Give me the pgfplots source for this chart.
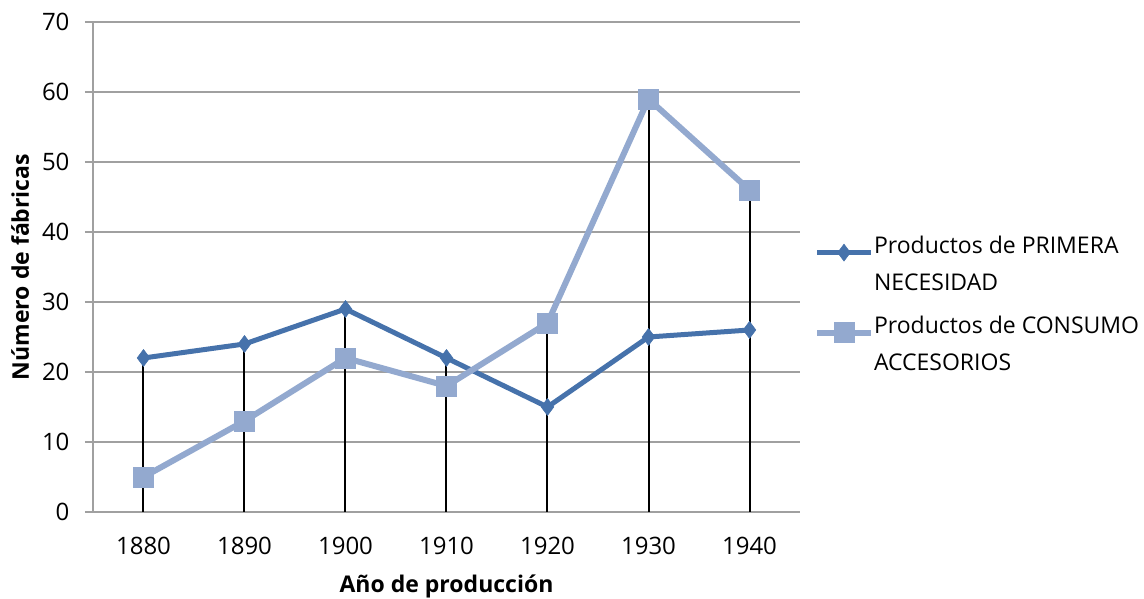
\documentclass[border=0pt]{standalone}
\usepackage{pgfplots}
\pgfplotsset{compat=1.18}
\usepackage{fontspec}
\setmainfont{Open Sans}
\definecolor{sdark}{HTML}{4672AB}
\definecolor{slight}{HTML}{93A9CF}
\definecolor{gridg}{HTML}{A0A0A0}
\begin{document}
\begin{tikzpicture}
\path[use as bounding box] (-93pt,-87pt) rectangle (1051pt,512pt);
\begin{axis}[
  at={(0pt,0pt)}, anchor=south west,
  scale only axis, width=707pt, height=490pt,
  xmin=-0.5, xmax=6.5, ymin=0, ymax=70,
  xtick={0,...,6}, xticklabels={1880,1890,1900,1910,1920,1930,1940},
  ytick={0,10,...,70},
  /pgf/number format/assume math mode=true,
  tick label style={font=\fontsize{24}{28}\selectfont, black},
  xticklabel style={yshift=-14pt},
  yticklabel style={xshift=-12pt},
  major x tick style={draw=none},
  major y tick style={gridg, line width=1.5pt},
  major tick length=8pt,
  ytick pos=left, tick align=outside,
  ymajorgrids, grid style={gridg, line width=1.5pt},
  axis line style={gridg, line width=1.5pt},
  axis x line*=bottom, axis y line*=left,
  xlabel={\bfseries Año de producción},
  ylabel={\bfseries Número de fábricas},
  label style={font=\fontsize{23}{27}\selectfont\bfseries},
  xlabel style={yshift=-13pt},
  ylabel style={yshift=6pt},
  legend style={at={(1.0,0.563)}, anchor=north west, xshift=14pt, draw=none, fill=none,
    font=\fontsize{23}{28}\selectfont, row sep=4pt,
    inner sep=0pt, outer sep=0pt,
    nodes={inner sep=0pt, text height=17pt, text depth=16pt}},
  legend cell align=left,
  legend image code/.code={\draw[#1, mark repeat=2, mark phase=2] plot coordinates {(0pt,0pt) (27pt,0pt) (54pt,0pt)};},
  clip=false,
]
\addplot[sdark, line width=5pt, mark=diamond*, mark size=8.5pt, mark options={solid, line width=0.5pt}]
  coordinates {(0,22) (1,24) (2,29) (3,22) (4,15) (5,25) (6,26)};
\addlegendentry{Productos de PRIMERA}
\addlegendimage{empty legend}
\addlegendentry[text depth=22pt]{NECESIDAD}
\addplot[slight, line width=6pt, mark=square*, mark size=10pt, mark options={solid, line width=0.5pt}]
  coordinates {(0,5) (1,13) (2,22) (3,18) (4,27) (5,59) (6,46)};
\addlegendentry{Productos de CONSUMO}
\addlegendimage{empty legend}
\addlegendentry{ACCESORIOS}
\addplot[black, line width=2pt, ycomb, no marks, forget plot]
  coordinates {(0,22) (1,24) (2,29) (3,22) (4,27) (5,59) (6,46)};
\end{axis}
\end{tikzpicture}
\end{document}
